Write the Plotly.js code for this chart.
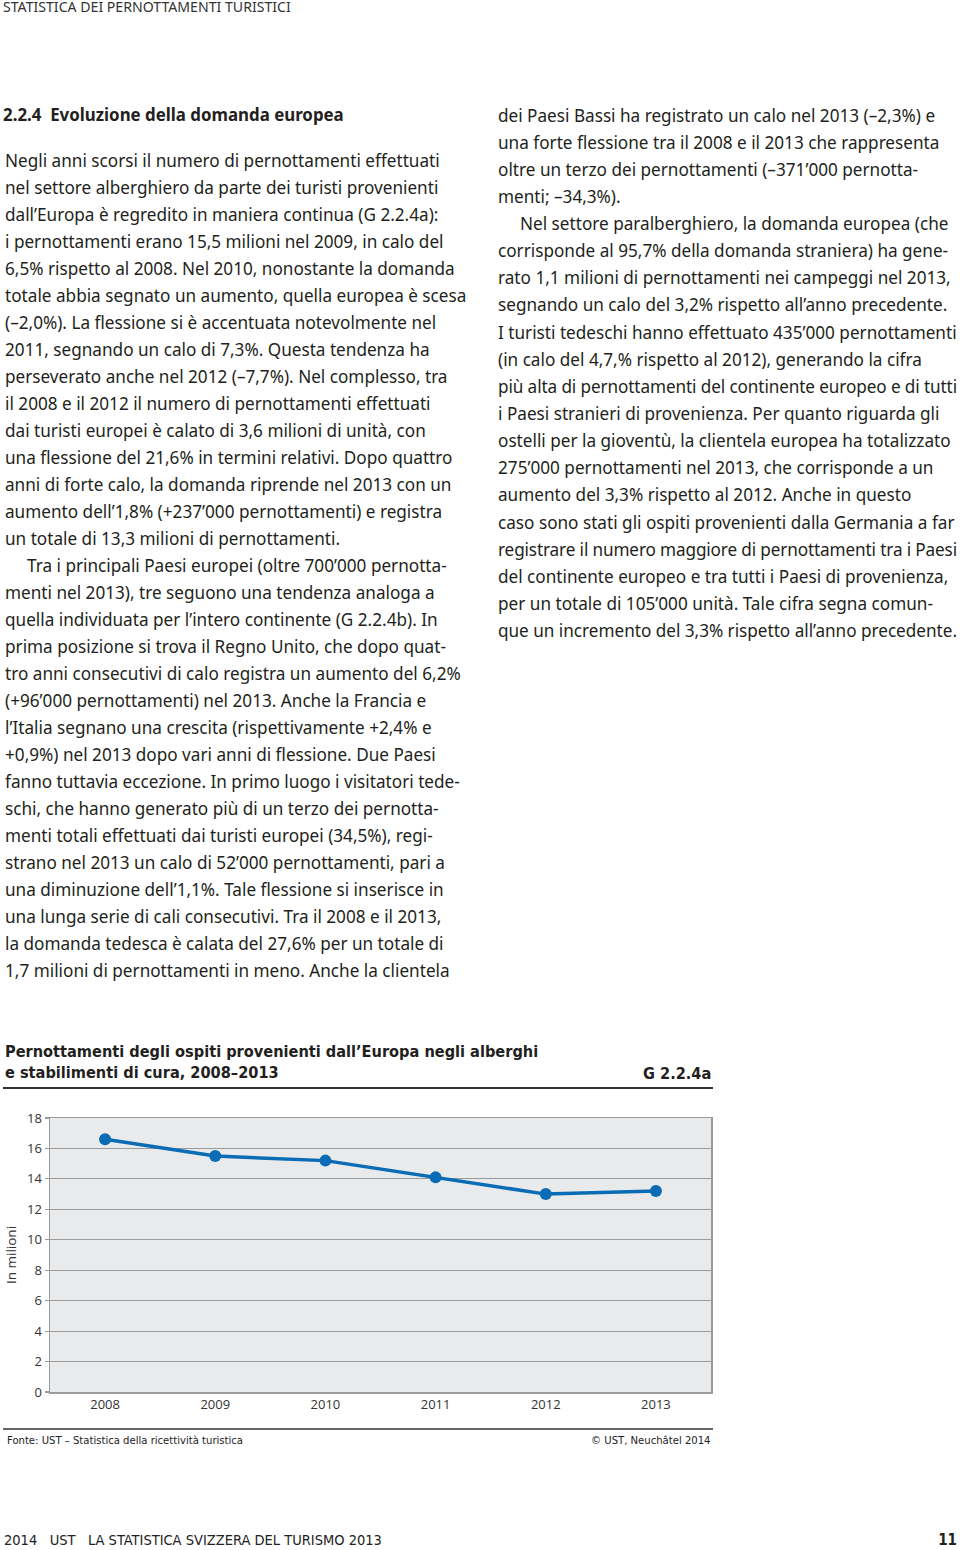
<!DOCTYPE html>
<html>
<head>
<meta charset="utf-8">
<script src="https://cdn.plot.ly/plotly-3.0.1.min.js"></script>
<style>
html,body{margin:0;padding:0;background:#fff;}
body{width:960px;height:1550px;position:relative;overflow:hidden;color:#231f20;font-family:"Noto Sans","Open Sans",sans-serif;}
.abs{position:absolute;white-space:nowrap;}
.col{position:absolute;}
.col div{white-space:nowrap;height:27px;line-height:27px;}
.col span{display:inline-block;}
.ind{padding-left:22px;}
#chart{position:absolute;left:0;top:1030px;width:720px;height:440px;}
</style>
</head>
<body>
<div class="abs" id="hdr" style="left:3px;top:-2px;font-size:13px;line-height:18px;color:#333;"><span id="hdrs" style="display:inline-block">STATISTICA DEI PERNOTTAMENTI TURISTICI</span></div>
<div class="abs" style="left:3px;top:104px;font-size:17px;line-height:22px;font-weight:bold;"><span id="head" style="display:inline-block">2.2.4&nbsp;&nbsp;Evoluzione della domanda europea</span></div>

<div class="col" id="left" style="left:5px;top:146.5px;">
<div><span id="ref1">Negli anni scorsi il numero di pernottamenti effettuati</span></div>
<div><span>nel settore alberghiero da parte dei turisti provenienti</span></div>
<div><span>dall’Europa è regredito in maniera continua (G 2.2.4a):</span></div>
<div><span>i pernottamenti erano 15,5 milioni nel 2009, in calo del</span></div>
<div><span>6,5% rispetto al 2008. Nel 2010, nonostante la domanda</span></div>
<div><span>totale abbia segnato un aumento, quella europea è scesa</span></div>
<div><span>(–2,0%). La flessione si è accentuata notevolmente nel</span></div>
<div><span>2011, segnando un calo di 7,3%. Questa tendenza ha</span></div>
<div><span>perseverato anche nel 2012 (–7,7%). Nel complesso, tra</span></div>
<div><span>il 2008 e il 2012 il numero di pernottamenti effettuati</span></div>
<div><span>dai turisti europei è calato di 3,6 milioni di unità, con</span></div>
<div><span>una flessione del 21,6% in termini relativi. Dopo quattro</span></div>
<div><span>anni di forte calo, la domanda riprende nel 2013 con un</span></div>
<div><span>aumento dell’1,8% (+237’000 pernottamenti) e registra</span></div>
<div><span>un totale di 13,3 milioni di pernottamenti.</span></div>
<div class="ind"><span>Tra i principali Paesi europei (oltre 700’000 pernotta-</span></div>
<div><span>menti nel 2013), tre seguono una tendenza analoga a</span></div>
<div><span>quella individuata per l’intero continente (G 2.2.4b). In</span></div>
<div><span>prima posizione si trova il Regno Unito, che dopo quat-</span></div>
<div><span>tro anni consecutivi di calo registra un aumento del 6,2%</span></div>
<div><span>(+96’000 pernottamenti) nel 2013. Anche la Francia e</span></div>
<div><span>l’Italia segnano una crescita (rispettivamente +2,4% e</span></div>
<div><span>+0,9%) nel 2013 dopo vari anni di flessione. Due Paesi</span></div>
<div><span>fanno tuttavia eccezione. In primo luogo i visitatori tede-</span></div>
<div><span>schi, che hanno generato più di un terzo dei pernotta-</span></div>
<div><span>menti totali effettuati dai turisti europei (34,5%), regi-</span></div>
<div><span>strano nel 2013 un calo di 52’000 pernottamenti, pari a</span></div>
<div><span>una diminuzione dell’1,1%. Tale flessione si inserisce in</span></div>
<div><span>una lunga serie di cali consecutivi. Tra il 2008 e il 2013,</span></div>
<div><span>la domanda tedesca è calata del 27,6% per un totale di</span></div>
<div><span>1,7 milioni di pernottamenti in meno. Anche la clientela</span></div>
</div>

<div class="col" id="right" style="left:498px;top:101.5px;">
<div><span>dei Paesi Bassi ha registrato un calo nel 2013 (–2,3%) e</span></div>
<div><span>una forte flessione tra il 2008 e il 2013 che rappresenta</span></div>
<div><span>oltre un terzo dei pernottamenti (–371’000 pernotta-</span></div>
<div><span>menti; –34,3%).</span></div>
<div class="ind"><span>Nel settore paralberghiero, la domanda europea (che</span></div>
<div><span>corrisponde al 95,7% della domanda straniera) ha gene-</span></div>
<div><span>rato 1,1 milioni di pernottamenti nei campeggi nel 2013,</span></div>
<div><span>segnando un calo del 3,2% rispetto all’anno precedente.</span></div>
<div><span>I turisti tedeschi hanno effettuato 435’000 pernottamenti</span></div>
<div><span>(in calo del 4,7,% rispetto al 2012), generando la cifra</span></div>
<div><span>più alta di pernottamenti del continente europeo e di tutti</span></div>
<div><span>i Paesi stranieri di provenienza. Per quanto riguarda gli</span></div>
<div><span>ostelli per la gioventù, la clientela europea ha totalizzato</span></div>
<div><span>275’000 pernottamenti nel 2013, che corrisponde a un</span></div>
<div><span>aumento del 3,3% rispetto al 2012. Anche in questo</span></div>
<div><span>caso sono stati gli ospiti provenienti dalla Germania a far</span></div>
<div><span>registrare il numero maggiore di pernottamenti tra i Paesi</span></div>
<div><span>del continente europeo e tra tutti i Paesi di provenienza,</span></div>
<div><span>per un totale di 105’000 unità. Tale cifra segna comun-</span></div>
<div><span>que un incremento del 3,3% rispetto all’anno precedente.</span></div>
</div>

<div id="chart"></div>

<div class="abs" style="left:4px;top:1531px;font-size:15px;line-height:18px;color:#222;font-family:'Liberation Sans Narrow','Arial Narrow','DejaVu Sans Condensed',sans-serif;"><span id="foot" style="display:inline-block">2014&nbsp;&nbsp;&nbsp;UST&nbsp;&nbsp;&nbsp;LA STATISTICA SVIZZERA DEL TURISMO 2013</span></div>
<div class="abs" style="right:3px;top:1531px;font-size:15px;line-height:18px;font-weight:bold;color:#222;font-family:'Liberation Sans Narrow','Arial Narrow','DejaVu Sans Condensed',sans-serif;">11</div>

<script>
// ---- data ----
const years = ['2008', '2009', '2010', '2011', '2012', '2013'];
const pernottamenti = [16.6, 15.5, 15.2, 14.1, 13.0, 13.2];
const chartTitle = 'Pernottamenti degli ospiti provenienti dall’Europa negli alberghi<br>e stabilimenti di cura, 2008–2013';
const chartCode = 'G 2.2.4a';
const yTitle = 'In milioni';
const sourceText = 'Fonte: UST – Statistica della ricettività turistica';
const copyText = '© UST, Neuchâtel 2014';

// ---- text fitting ----
function fit(el, target) {
  const w = el.getBoundingClientRect().width;
  const fs = parseFloat(getComputedStyle(el).fontSize);
  el.style.fontSize = (fs * target / w) + 'px';
}
fit(document.getElementById('hdrs'), 288);
fit(document.getElementById('head'), 341);
fit(document.getElementById('foot'), 378);
(function () {
  const ref = document.getElementById('ref1');
  const w = ref.getBoundingClientRect().width;
  const fs = parseFloat(getComputedStyle(ref).fontSize);
  const size = (fs * 435 / w) + 'px';
  document.getElementById('left').style.fontSize = size;
  document.getElementById('right').style.fontSize = size;
  [['left', 462], ['right', 459]].forEach(([id, maxW]) => {
    document.getElementById(id).querySelectorAll('div').forEach(d => {
      const s = d.querySelector('span');
      const pad = parseFloat(getComputedStyle(d).paddingLeft) || 0;
      const sw = s.getBoundingClientRect().width + pad;
      if (sw > maxW) {
        s.style.letterSpacing = ((maxW - sw) / s.textContent.length) + 'px';
      }
    });
  });
})();
document.querySelectorAll('#right div').forEach(d => { d.style.height = '27.15px'; d.style.lineHeight = '27.15px'; });

// ---- chart ----
const W = 720, H = 440, ML = 50, MR = 9, MT = 88, MB = 78;
const PW = W - ML - MR, PH = H - MT - MB;
const px = X => (X - ML) / PW;                 // page x -> paper x
const py = Y => (1030 + MT + PH - Y) / PH;     // page y -> paper y
const condensed = "'Liberation Sans Narrow','Arial Narrow','DejaVu Sans Condensed',sans-serif";
const grey = '#9b9b9b';

const trace = {
  x: years, y: pernottamenti, type: 'scatter', mode: 'lines+markers',
  line: {color: '#0a6cb4', width: 3.5},
  marker: {color: '#0a6cb4', size: 12},
  hoverinfo: 'x+y', showlegend: false
};

const layout = {
  width: W, height: H,
  margin: {l: ML, r: MR, t: MT, b: MB, pad: 0},
  paper_bgcolor: 'rgba(0,0,0,0)',
  plot_bgcolor: '#e9eaeb',
  font: {family: "'Open Sans', sans-serif", color: '#333', size: 13},
  title: {
    text: '<b>' + chartTitle + '</b>',
    font: {family: condensed, size: 16.2, color: '#231f20'},
    x: 5 / W, xanchor: 'left', xref: 'container',
    y: 1 - 27 / H, yanchor: 'top', yref: 'container'
  },
  xaxis: {
    type: 'category', range: [-0.5, 5.5], fixedrange: true,
    showgrid: false, zeroline: false, ticks: '',
    showline: true, linecolor: grey, linewidth: 1.5, mirror: true,
    tickfont: {size: 13, color: '#333'}
  },
  yaxis: {
    range: [0, 18], dtick: 2, tick0: 0, fixedrange: true,
    showgrid: true, gridcolor: grey, gridwidth: 1.2, zeroline: false,
    ticks: 'outside', ticklen: 4, tickcolor: grey, tickwidth: 1.2,
    showline: true, linecolor: grey, linewidth: 1.5, mirror: true,
    tickfont: {size: 13, color: '#333'},
    title: {text: yTitle, font: {size: 13.5, color: '#333'}, standoff: 7}
  },
  shapes: [
    {type: 'line', xref: 'paper', yref: 'paper', x0: px(3), x1: px(713), y0: py(1088), y1: py(1088), line: {color: '#333', width: 2}},
    {type: 'line', xref: 'paper', yref: 'paper', x0: px(3), x1: px(713), y0: py(1429), y1: py(1429), line: {color: '#333', width: 1.5}}
  ],
  annotations: [
    {text: '<b>' + chartCode + '</b>', xref: 'paper', yref: 'paper', x: px(713), y: py(1074), xanchor: 'right', yanchor: 'middle', showarrow: false, font: {family: condensed, size: 16.2, color: '#231f20'}},
    {text: sourceText, xref: 'paper', yref: 'paper', x: px(5), y: py(1440), xanchor: 'left', yanchor: 'middle', showarrow: false, font: {family: condensed, size: 11.2, color: '#222'}},
    {text: copyText, xref: 'paper', yref: 'paper', x: px(713), y: py(1440), xanchor: 'right', yanchor: 'middle', showarrow: false, font: {family: condensed, size: 11.2, color: '#222'}}
  ]
};

Plotly.newPlot('chart', [trace], layout, {displayModeBar: false, staticPlot: true});
</script>
</body>
</html>
